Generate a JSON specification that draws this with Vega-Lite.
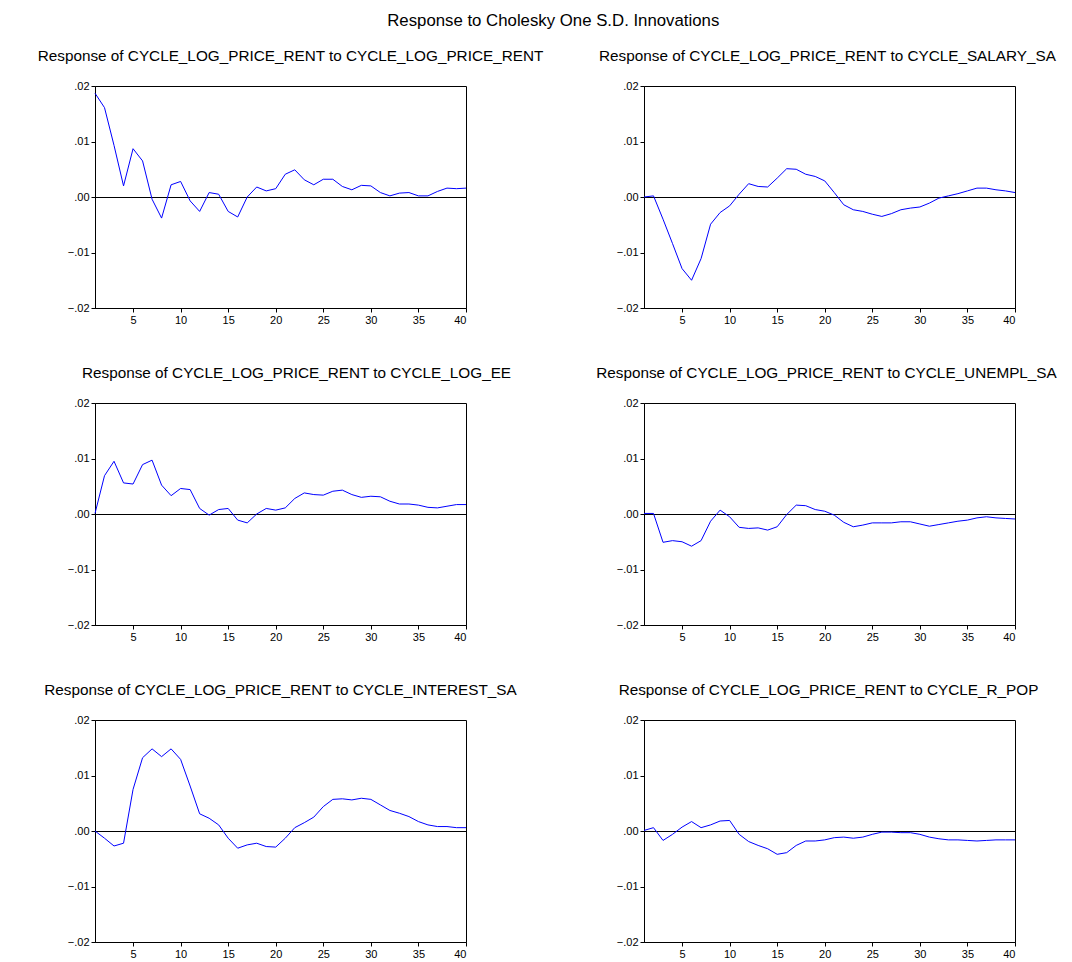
{
"$schema": "https://vega.github.io/schema/vega-lite/v6.json",
"background": "white",
"padding": {"left": 37, "top": 13, "right": 5, "bottom": 5},
"title": {"text": "Response to Cholesky One S.D. Innovations", "font": "Liberation Sans", "fontSize": 16.8, "fontWeight": "normal", "color": "black", "anchor": "middle", "offset": 18, "dx": 6},
"data": {"values": [
{"p":1,"t":1,"v":0.0187},{"p":1,"t":2,"v":0.0161},{"p":1,"t":3,"v":0.0093},{"p":1,"t":4,"v":0.0020},{"p":1,"t":5,"v":0.0087},{"p":1,"t":6,"v":0.0065},{"p":1,"t":7,"v":-0.0004},{"p":1,"t":8,"v":-0.0038},{"p":1,"t":9,"v":0.0022},{"p":1,"t":10,"v":0.0028},
{"p":1,"t":11,"v":-0.0007},{"p":1,"t":12,"v":-0.0026},{"p":1,"t":13,"v":0.0008},{"p":1,"t":14,"v":0.0005},{"p":1,"t":15,"v":-0.0026},{"p":1,"t":16,"v":-0.0036},{"p":1,"t":17,"v":0.0000},{"p":1,"t":18,"v":0.0018},{"p":1,"t":19,"v":0.0011},{"p":1,"t":20,"v":0.0015},
{"p":1,"t":21,"v":0.0041},{"p":1,"t":22,"v":0.0049},{"p":1,"t":23,"v":0.0031},{"p":1,"t":24,"v":0.0022},{"p":1,"t":25,"v":0.0032},{"p":1,"t":26,"v":0.0032},{"p":1,"t":27,"v":0.0019},{"p":1,"t":28,"v":0.0013},{"p":1,"t":29,"v":0.0021},{"p":1,"t":30,"v":0.0020},
{"p":1,"t":31,"v":0.0008},{"p":1,"t":32,"v":0.0002},{"p":1,"t":33,"v":0.0007},{"p":1,"t":34,"v":0.0008},{"p":1,"t":35,"v":0.0002},{"p":1,"t":36,"v":0.0002},{"p":1,"t":37,"v":0.0010},{"p":1,"t":38,"v":0.0016},{"p":1,"t":39,"v":0.0015},{"p":1,"t":40,"v":0.0016},
{"p":2,"t":1,"v":0.0000},{"p":2,"t":2,"v":0.0002},{"p":2,"t":3,"v":-0.0040},{"p":2,"t":4,"v":-0.0084},{"p":2,"t":5,"v":-0.0129},{"p":2,"t":6,"v":-0.0150},{"p":2,"t":7,"v":-0.0111},{"p":2,"t":8,"v":-0.0049},{"p":2,"t":9,"v":-0.0028},{"p":2,"t":10,"v":-0.0016},
{"p":2,"t":11,"v":0.0005},{"p":2,"t":12,"v":0.0024},{"p":2,"t":13,"v":0.0019},{"p":2,"t":14,"v":0.0018},{"p":2,"t":15,"v":0.0034},{"p":2,"t":16,"v":0.0051},{"p":2,"t":17,"v":0.0050},{"p":2,"t":18,"v":0.0041},{"p":2,"t":19,"v":0.0037},{"p":2,"t":20,"v":0.0029},
{"p":2,"t":21,"v":0.0008},{"p":2,"t":22,"v":-0.0014},{"p":2,"t":23,"v":-0.0023},{"p":2,"t":24,"v":-0.0026},{"p":2,"t":25,"v":-0.0031},{"p":2,"t":26,"v":-0.0035},{"p":2,"t":27,"v":-0.0030},{"p":2,"t":28,"v":-0.0023},{"p":2,"t":29,"v":-0.0020},{"p":2,"t":30,"v":-0.0018},
{"p":2,"t":31,"v":-0.0011},{"p":2,"t":32,"v":-0.0002},{"p":2,"t":33,"v":0.0002},{"p":2,"t":34,"v":0.0006},{"p":2,"t":35,"v":0.0011},{"p":2,"t":36,"v":0.0016},{"p":2,"t":37,"v":0.0016},{"p":2,"t":38,"v":0.0013},{"p":2,"t":39,"v":0.0011},{"p":2,"t":40,"v":0.0008},
{"p":3,"t":1,"v":0.0001},{"p":3,"t":2,"v":0.0069},{"p":3,"t":3,"v":0.0095},{"p":3,"t":4,"v":0.0056},{"p":3,"t":5,"v":0.0054},{"p":3,"t":6,"v":0.0089},{"p":3,"t":7,"v":0.0097},{"p":3,"t":8,"v":0.0052},{"p":3,"t":9,"v":0.0033},{"p":3,"t":10,"v":0.0046},
{"p":3,"t":11,"v":0.0044},{"p":3,"t":12,"v":0.0010},{"p":3,"t":13,"v":-0.0002},{"p":3,"t":14,"v":0.0008},{"p":3,"t":15,"v":0.0010},{"p":3,"t":16,"v":-0.0011},{"p":3,"t":17,"v":-0.0016},{"p":3,"t":18,"v":0.0000},{"p":3,"t":19,"v":0.0010},{"p":3,"t":20,"v":0.0007},
{"p":3,"t":21,"v":0.0011},{"p":3,"t":22,"v":0.0028},{"p":3,"t":23,"v":0.0038},{"p":3,"t":24,"v":0.0035},{"p":3,"t":25,"v":0.0034},{"p":3,"t":26,"v":0.0041},{"p":3,"t":27,"v":0.0043},{"p":3,"t":28,"v":0.0035},{"p":3,"t":29,"v":0.0030},{"p":3,"t":30,"v":0.0032},
{"p":3,"t":31,"v":0.0031},{"p":3,"t":32,"v":0.0023},{"p":3,"t":33,"v":0.0018},{"p":3,"t":34,"v":0.0018},{"p":3,"t":35,"v":0.0016},{"p":3,"t":36,"v":0.0012},{"p":3,"t":37,"v":0.0011},{"p":3,"t":38,"v":0.0014},{"p":3,"t":39,"v":0.0017},{"p":3,"t":40,"v":0.0017},
{"p":4,"t":1,"v":0.0001},{"p":4,"t":2,"v":0.0001},{"p":4,"t":3,"v":-0.0051},{"p":4,"t":4,"v":-0.0048},{"p":4,"t":5,"v":-0.0050},{"p":4,"t":6,"v":-0.0058},{"p":4,"t":7,"v":-0.0048},{"p":4,"t":8,"v":-0.0013},{"p":4,"t":9,"v":0.0007},{"p":4,"t":10,"v":-0.0005},
{"p":4,"t":11,"v":-0.0024},{"p":4,"t":12,"v":-0.0026},{"p":4,"t":13,"v":-0.0025},{"p":4,"t":14,"v":-0.0029},{"p":4,"t":15,"v":-0.0023},{"p":4,"t":16,"v":-0.0001},{"p":4,"t":17,"v":0.0016},{"p":4,"t":18,"v":0.0015},{"p":4,"t":19,"v":0.0008},{"p":4,"t":20,"v":0.0005},
{"p":4,"t":21,"v":-0.0002},{"p":4,"t":22,"v":-0.0015},{"p":4,"t":23,"v":-0.0023},{"p":4,"t":24,"v":-0.0020},{"p":4,"t":25,"v":-0.0016},{"p":4,"t":26,"v":-0.0016},{"p":4,"t":27,"v":-0.0016},{"p":4,"t":28,"v":-0.0014},{"p":4,"t":29,"v":-0.0014},{"p":4,"t":30,"v":-0.0018},
{"p":4,"t":31,"v":-0.0022},{"p":4,"t":32,"v":-0.0019},{"p":4,"t":33,"v":-0.0016},{"p":4,"t":34,"v":-0.0013},{"p":4,"t":35,"v":-0.0011},{"p":4,"t":36,"v":-0.0007},{"p":4,"t":37,"v":-0.0005},{"p":4,"t":38,"v":-0.0007},{"p":4,"t":39,"v":-0.0008},{"p":4,"t":40,"v":-0.0009},
{"p":5,"t":1,"v":0.0000},{"p":5,"t":2,"v":-0.0013},{"p":5,"t":3,"v":-0.0027},{"p":5,"t":4,"v":-0.0022},{"p":5,"t":5,"v":0.0075},{"p":5,"t":6,"v":0.0132},{"p":5,"t":7,"v":0.0148},{"p":5,"t":8,"v":0.0134},{"p":5,"t":9,"v":0.0148},{"p":5,"t":10,"v":0.0129},
{"p":5,"t":11,"v":0.0081},{"p":5,"t":12,"v":0.0031},{"p":5,"t":13,"v":0.0023},{"p":5,"t":14,"v":0.0011},{"p":5,"t":15,"v":-0.0013},{"p":5,"t":16,"v":-0.0031},{"p":5,"t":17,"v":-0.0025},{"p":5,"t":18,"v":-0.0022},{"p":5,"t":19,"v":-0.0028},{"p":5,"t":20,"v":-0.0029},
{"p":5,"t":21,"v":-0.0013},{"p":5,"t":22,"v":0.0006},{"p":5,"t":23,"v":0.0015},{"p":5,"t":24,"v":0.0025},{"p":5,"t":25,"v":0.0044},{"p":5,"t":26,"v":0.0057},{"p":5,"t":27,"v":0.0058},{"p":5,"t":28,"v":0.0056},{"p":5,"t":29,"v":0.0059},{"p":5,"t":30,"v":0.0057},
{"p":5,"t":31,"v":0.0047},{"p":5,"t":32,"v":0.0037},{"p":5,"t":33,"v":0.0032},{"p":5,"t":34,"v":0.0026},{"p":5,"t":35,"v":0.0017},{"p":5,"t":36,"v":0.0011},{"p":5,"t":37,"v":0.0008},{"p":5,"t":38,"v":0.0008},{"p":5,"t":39,"v":0.0006},{"p":5,"t":40,"v":0.0006},
{"p":6,"t":1,"v":0.0001},{"p":6,"t":2,"v":0.0006},{"p":6,"t":3,"v":-0.0017},{"p":6,"t":4,"v":-0.0006},{"p":6,"t":5,"v":0.0007},{"p":6,"t":6,"v":0.0017},{"p":6,"t":7,"v":0.0006},{"p":6,"t":8,"v":0.0011},{"p":6,"t":9,"v":0.0018},{"p":6,"t":10,"v":0.0019},
{"p":6,"t":11,"v":-0.0006},{"p":6,"t":12,"v":-0.0019},{"p":6,"t":13,"v":-0.0026},{"p":6,"t":14,"v":-0.0032},{"p":6,"t":15,"v":-0.0042},{"p":6,"t":16,"v":-0.0039},{"p":6,"t":17,"v":-0.0026},{"p":6,"t":18,"v":-0.0018},{"p":6,"t":19,"v":-0.0018},{"p":6,"t":20,"v":-0.0016},
{"p":6,"t":21,"v":-0.0012},{"p":6,"t":22,"v":-0.0011},{"p":6,"t":23,"v":-0.0013},{"p":6,"t":24,"v":-0.0011},{"p":6,"t":25,"v":-0.0006},{"p":6,"t":26,"v":-0.0002},{"p":6,"t":27,"v":-0.0002},{"p":6,"t":28,"v":-0.0003},{"p":6,"t":29,"v":-0.0003},{"p":6,"t":30,"v":-0.0006},
{"p":6,"t":31,"v":-0.0011},{"p":6,"t":32,"v":-0.0014},{"p":6,"t":33,"v":-0.0016},{"p":6,"t":34,"v":-0.0016},{"p":6,"t":35,"v":-0.0017},{"p":6,"t":36,"v":-0.0018},{"p":6,"t":37,"v":-0.0017},{"p":6,"t":38,"v":-0.0016},{"p":6,"t":39,"v":-0.0016},{"p":6,"t":40,"v":-0.0016}
]},
"columns": 2,
"spacing": {"row": 95, "column": 178},
"bounds": "flush",
"concat": [
{"title": {"text": "Response of CYCLE_LOG_PRICE_RENT to CYCLE_LOG_PRICE_RENT", "dx": 10},
 "width": 371, "height": 222, "transform": [{"filter": "datum.p == 1"}],
 "layer": [
  {"data": {"values": [{"zero": 0}]}, "mark": {"type": "rule", "color": "black", "strokeWidth": 1, "yOffset": 0.5}, "encoding": {"y": {"field": "zero", "type": "quantitative"}}},
  {"mark": {"type": "line", "color": "#0000ff", "strokeWidth": 1},
   "encoding": {"x": {"field": "t", "type": "quantitative", "scale": {"domain": [1, 40], "nice": false, "zero": false}, "axis": {"values": [5,10,15,20,25,30,35,40], "title": null}},
                "y": {"field": "v", "type": "quantitative", "scale": {"domain": [-0.02, 0.02], "nice": false}, "axis": {"values": [-0.02,-0.01,0,0.01,0.02], "title": null, "labelExpr": "replace(format(datum.value, '.2f'), '0.', '.')"}}}}
 ]},
{"title": {"text": "Response of CYCLE_LOG_PRICE_RENT to CYCLE_SALARY_SA", "dx": -2},
 "width": 371, "height": 222, "transform": [{"filter": "datum.p == 2"}],
 "layer": [
  {"data": {"values": [{"zero": 0}]}, "mark": {"type": "rule", "color": "black", "strokeWidth": 1, "yOffset": 0.5}, "encoding": {"y": {"field": "zero", "type": "quantitative"}}},
  {"mark": {"type": "line", "color": "#0000ff", "strokeWidth": 1},
   "encoding": {"x": {"field": "t", "type": "quantitative", "scale": {"domain": [1, 40], "nice": false, "zero": false}, "axis": {"values": [5,10,15,20,25,30,35,40], "title": null}},
                "y": {"field": "v", "type": "quantitative", "scale": {"domain": [-0.02, 0.02], "nice": false}, "axis": {"values": [-0.02,-0.01,0,0.01,0.02], "title": null, "labelExpr": "replace(format(datum.value, '.2f'), '0.', '.')"}}}}
 ]},
{"title": {"text": "Response of CYCLE_LOG_PRICE_RENT to CYCLE_LOG_EE", "dx": 16},
 "width": 371, "height": 222, "transform": [{"filter": "datum.p == 3"}],
 "layer": [
  {"data": {"values": [{"zero": 0}]}, "mark": {"type": "rule", "color": "black", "strokeWidth": 1, "yOffset": 0.5}, "encoding": {"y": {"field": "zero", "type": "quantitative"}}},
  {"mark": {"type": "line", "color": "#0000ff", "strokeWidth": 1},
   "encoding": {"x": {"field": "t", "type": "quantitative", "scale": {"domain": [1, 40], "nice": false, "zero": false}, "axis": {"values": [5,10,15,20,25,30,35,40], "title": null}},
                "y": {"field": "v", "type": "quantitative", "scale": {"domain": [-0.02, 0.02], "nice": false}, "axis": {"values": [-0.02,-0.01,0,0.01,0.02], "title": null, "labelExpr": "replace(format(datum.value, '.2f'), '0.', '.')"}}}}
 ]},
{"title": {"text": "Response of CYCLE_LOG_PRICE_RENT to CYCLE_UNEMPL_SA", "dx": -3},
 "width": 371, "height": 222, "transform": [{"filter": "datum.p == 4"}],
 "layer": [
  {"data": {"values": [{"zero": 0}]}, "mark": {"type": "rule", "color": "black", "strokeWidth": 1, "yOffset": 0.5}, "encoding": {"y": {"field": "zero", "type": "quantitative"}}},
  {"mark": {"type": "line", "color": "#0000ff", "strokeWidth": 1},
   "encoding": {"x": {"field": "t", "type": "quantitative", "scale": {"domain": [1, 40], "nice": false, "zero": false}, "axis": {"values": [5,10,15,20,25,30,35,40], "title": null}},
                "y": {"field": "v", "type": "quantitative", "scale": {"domain": [-0.02, 0.02], "nice": false}, "axis": {"values": [-0.02,-0.01,0,0.01,0.02], "title": null, "labelExpr": "replace(format(datum.value, '.2f'), '0.', '.')"}}}}
 ]},
{"title": {"text": "Response of CYCLE_LOG_PRICE_RENT to CYCLE_INTEREST_SA", "dx": 0},
 "width": 371, "height": 222, "transform": [{"filter": "datum.p == 5"}],
 "layer": [
  {"data": {"values": [{"zero": 0}]}, "mark": {"type": "rule", "color": "black", "strokeWidth": 1, "yOffset": 0.5}, "encoding": {"y": {"field": "zero", "type": "quantitative"}}},
  {"mark": {"type": "line", "color": "#0000ff", "strokeWidth": 1},
   "encoding": {"x": {"field": "t", "type": "quantitative", "scale": {"domain": [1, 40], "nice": false, "zero": false}, "axis": {"values": [5,10,15,20,25,30,35,40], "title": null}},
                "y": {"field": "v", "type": "quantitative", "scale": {"domain": [-0.02, 0.02], "nice": false}, "axis": {"values": [-0.02,-0.01,0,0.01,0.02], "title": null, "labelExpr": "replace(format(datum.value, '.2f'), '0.', '.')"}}}}
 ]},
{"title": {"text": "Response of CYCLE_LOG_PRICE_RENT to CYCLE_R_POP", "dx": -1},
 "width": 371, "height": 222, "transform": [{"filter": "datum.p == 6"}],
 "layer": [
  {"data": {"values": [{"zero": 0}]}, "mark": {"type": "rule", "color": "black", "strokeWidth": 1, "yOffset": 0.5}, "encoding": {"y": {"field": "zero", "type": "quantitative"}}},
  {"mark": {"type": "line", "color": "#0000ff", "strokeWidth": 1},
   "encoding": {"x": {"field": "t", "type": "quantitative", "scale": {"domain": [1, 40], "nice": false, "zero": false}, "axis": {"values": [5,10,15,20,25,30,35,40], "title": null}},
                "y": {"field": "v", "type": "quantitative", "scale": {"domain": [-0.02, 0.02], "nice": false}, "axis": {"values": [-0.02,-0.01,0,0.01,0.02], "title": null, "labelExpr": "replace(format(datum.value, '.2f'), '0.', '.')"}}}}
 ]}
],
"config": {
 "view": {"stroke": "black", "strokeWidth": 1},
 "title": {"font": "Liberation Sans", "fontSize": 15.3, "fontWeight": "normal", "color": "black", "anchor": "middle", "offset": 16},
 "axis": {"grid": false, "domainColor": "black", "tickColor": "black", "labelColor": "black", "labelFont": "Liberation Sans", "labelFontSize": 11, "tickSize": 4, "labelPadding": 2}
}
}
